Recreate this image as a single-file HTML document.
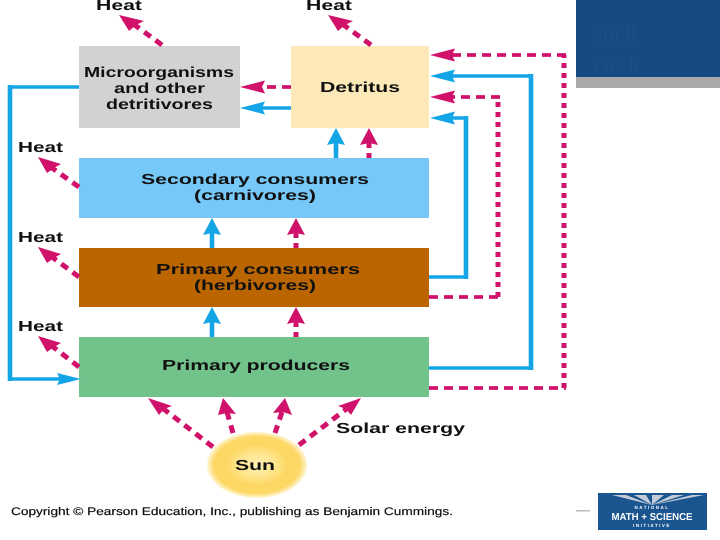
<!DOCTYPE html>
<html>
<head>
<meta charset="utf-8">
<style>
html,body{margin:0;padding:0;background:#fff;width:720px;height:540px;overflow:hidden}
svg{display:block}
text{font-family:"Liberation Sans",sans-serif;font-weight:bold;fill:#111;text-rendering:geometricPrecision}
</style>
</head>
<body>
<svg width="720" height="540" viewBox="0 0 720 540" xmlns="http://www.w3.org/2000/svg">
<defs>
<radialGradient id="sun" cx="50%" cy="50%" r="50%">
<stop offset="0" stop-color="#fff2b4"/>
<stop offset="0.35" stop-color="#fee68f"/>
<stop offset="0.62" stop-color="#fdd763"/>
<stop offset="0.86" stop-color="#fdd865"/>
<stop offset="1" stop-color="#fff6d8"/>
</radialGradient>
</defs>

<!-- corner slide fragment -->
<rect x="576" y="0" width="144" height="77" fill="#174a80"/>
<rect x="576" y="77" width="144" height="11" fill="#aaa8aa"/>
<text x="594" y="41" font-size="22" style="font-family:'Liberation Serif',serif;fill:#1c4f86;font-weight:normal">sin θ</text>
<text x="594" y="72" font-size="22" style="font-family:'Liberation Serif',serif;fill:#1c4f86;font-weight:normal">cos θ</text>

<!-- boxes -->
<rect x="79" y="46" width="161" height="82" fill="#d1d2d3"/>
<rect x="291" y="46" width="138" height="82" fill="#fde9b8"/>
<rect x="79" y="158" width="350" height="60" fill="#76c8f8"/>
<rect x="79" y="248" width="350" height="59" fill="#bb6500"/>
<rect x="79" y="337" width="350" height="60" fill="#72c28c"/>

<!-- blue connectors: horizontal runs -->
<g fill="none" stroke="#13a5e6" stroke-width="3.6">
<path d="M79 87H8"/>
<path d="M8 379H62"/>
<path d="M429 277H468"/>
<path d="M450 118H468"/>
<path d="M429 368H533"/>
<path d="M450 76H533"/>
<path d="M291 108H260"/>
</g>
<!-- blue connectors: vertical runs -->
<g fill="none" stroke="#13a5e6" stroke-width="4.6">
<path d="M10 85V381"/>
<path d="M466 116V279"/>
<path d="M531 74V370"/>
<path d="M336 142V158"/>
<path d="M212 232V248"/>
<path d="M212 321V337"/>
</g>
<!-- blue heads -->
<g fill="#13a5e6">
<polygon points="430,76 455,69.500 452,76 455,82.500"/>
<polygon points="430,118 455,111.500 452,118 455,124.500"/>
<polygon points="240,108 265,101.500 262,108 265,114.500"/>
<polygon points="81,379 57,373 60,379 57,385"/>
<polygon points="336,128 345,145 336,143 327,145"/>
<polygon points="212,218 221,235 212,233 203,235"/>
<polygon points="212,307 221,324 212,322 203,324"/>
</g>

<!-- pink horizontal dashes -->
<g fill="none" stroke="#d1126b" stroke-width="3.8" stroke-dasharray="9 6">
<path d="M429 388H566"/>
<path d="M429 297H500"/>
<path d="M566 55H452"/>
<path d="M500 97H452"/>
<path d="M291 87H262"/>
</g>
<!-- pink vertical dashes -->
<g fill="none" stroke="#d1126b" stroke-width="5" stroke-dasharray="5 5">
<path d="M564 388V55"/>
<path d="M498 297V97"/>
<path d="M369 158V142"/>
<path d="M296 248V232"/>
<path d="M296 337V321"/>
</g>
<!-- pink diagonal dashes -->
<g fill="none" stroke="#d1126b" stroke-width="5" stroke-dasharray="8 6">
<path d="M162 45L132 23"/>
<path d="M371 45L341 23"/>
<path d="M79 187L52 168"/>
<path d="M79 277L52 257"/>
<path d="M79 367L52 346"/>
<path d="M213 447L161 407"/>
<path d="M233 433L227 412"/>
<path d="M275 433L282 412"/>
<path d="M299 445L349 407"/>
</g>
<!-- pink heads -->
<g fill="#d1126b">
<polygon points="430,55 455,48.500 452,55 455,61.500"/>
<polygon points="430,97 455,90.500 452,97 455,103.500"/>
<polygon points="240,87 265,80.500 262,87 265,93.500"/>
<polygon points="369,128 378,145 369,143 360,145"/>
<polygon points="296,218 305,235 296,233 287,235"/>
<polygon points="296,307 305,324 296,322 287,324"/>
<polygon points="119,15 144,21 136,25 129,31"/>
<polygon points="328,15 353,21 345,25 338,31"/>
<polygon points="38,157 61,164 54,168 47,173"/>
<polygon points="38,247 61,254 54,258 47,263"/>
<polygon points="38,336 61,343 54,347 47,352"/>
<polygon points="148,398 172,406 164,409 159,415"/>
<polygon points="223,398 236,414 227,413 218,415"/>
<polygon points="285,398 292,415 283,412 273,413"/>
<polygon points="361,398 338,406 346,409 351,415"/>
</g>

<!-- sun -->
<ellipse cx="257" cy="465" rx="50" ry="33" fill="url(#sun)"/>

<!-- labels -->
<g font-size="14.500">
<text x="96" y="10" textLength="46" lengthAdjust="spacingAndGlyphs">Heat</text>
<text x="306" y="10" textLength="46" lengthAdjust="spacingAndGlyphs">Heat</text>
<text x="18" y="152" textLength="45" lengthAdjust="spacingAndGlyphs">Heat</text>
<text x="18" y="242" textLength="45" lengthAdjust="spacingAndGlyphs">Heat</text>
<text x="18" y="331" textLength="45" lengthAdjust="spacingAndGlyphs">Heat</text>
<text x="84" y="77" textLength="150" lengthAdjust="spacingAndGlyphs">Microorganisms</text>
<text x="114" y="93" textLength="91" lengthAdjust="spacingAndGlyphs">and other</text>
<text x="106" y="109" textLength="107" lengthAdjust="spacingAndGlyphs">detritivores</text>
<text x="320" y="92" textLength="80" lengthAdjust="spacingAndGlyphs">Detritus</text>
<text x="141" y="184" textLength="228" lengthAdjust="spacingAndGlyphs">Secondary consumers</text>
<text x="194" y="200" textLength="122" lengthAdjust="spacingAndGlyphs">(carnivores)</text>
<text x="156" y="274" textLength="204" lengthAdjust="spacingAndGlyphs">Primary consumers</text>
<text x="194" y="290" textLength="122" lengthAdjust="spacingAndGlyphs">(herbivores)</text>
<text x="162" y="370" textLength="188" lengthAdjust="spacingAndGlyphs">Primary producers</text>
<text x="336" y="433" textLength="129" lengthAdjust="spacingAndGlyphs">Solar energy</text>
<text x="235" y="470" textLength="40" lengthAdjust="spacingAndGlyphs">Sun</text>
</g>
<text x="11" y="515" font-size="11" textLength="442" lengthAdjust="spacingAndGlyphs" stroke="#111" stroke-width="0.2" style="font-weight:normal">Copyright © Pearson Education, Inc., publishing as Benjamin Cummings.</text>

<!-- logo -->
<rect x="576" y="510" width="14" height="1.5" fill="#bbb"/>
<rect x="598" y="493" width="109" height="37" fill="#1a5590"/>
<path d="M652 505 L612 495 H626 Z M652 505 L634 495 H646 Z M652 505 L652 495 H664 Z M652 505 L672 495 H684 Z M652 505 L692 495 H704 Z" fill="#c3ccd8"/>
<text x="652" y="509" font-size="4.500" text-anchor="middle" style="fill:#fff" letter-spacing="1.500">NATIONAL</text>
<text x="652" y="520" font-size="10" text-anchor="middle" textLength="81" lengthAdjust="spacingAndGlyphs" style="fill:#fff">MATH + SCIENCE</text>
<text x="652" y="527" font-size="4.500" text-anchor="middle" style="fill:#fff" letter-spacing="1.500">INITIATIVE</text>
</svg>
</body>
</html>
